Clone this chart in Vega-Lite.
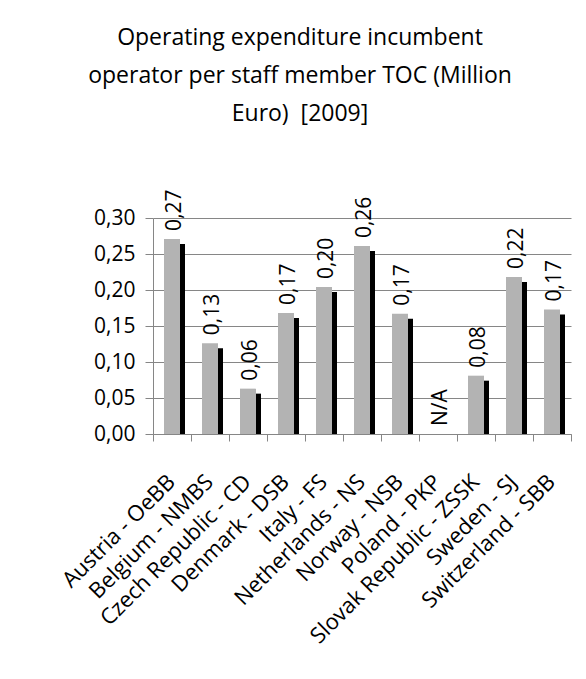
{
  "$schema": "https://vega.github.io/schema/vega-lite/v6.json",
  "width": 418,
  "height": 216,
  "autosize": "none",
  "padding": {"left": 153, "top": 218, "right": 15, "bottom": 245},
  "background": "white",
  "title": {
    "text": ["Operating expenditure incumbent", "operator per staff member TOC (Million", "Euro)\u00a0 [2009]"],
    "anchor": "middle",
    "dx": -62,
    "dy": -53,
    "font": "Open Sans",
    "fontSize": 23,
    "fontWeight": "normal",
    "lineHeight": 38,
    "color": "#000000",
    "offset": 10
  },
  "config": {
    "locale": {"number": {"decimal": ",", "thousands": ".", "grouping": [3], "currency": ["", " €"]}},
    "view": {"stroke": null},
    "font": "Open Sans"
  },
  "data": {
    "values": [
      {"op": "Austria - OeBB", "v": 0.271, "label": "0,27"},
      {"op": "Belgium - NMBS", "v": 0.126, "label": "0,13"},
      {"op": "Czech Republic - CD", "v": 0.063, "label": "0,06"},
      {"op": "Denmark - DSB", "v": 0.168, "label": "0,17"},
      {"op": "Italy - FS", "v": 0.204, "label": "0,20"},
      {"op": "Netherlands - NS", "v": 0.261, "label": "0,26"},
      {"op": "Norway - NSB", "v": 0.167, "label": "0,17"},
      {"op": "Poland - PKP", "v": null, "label": "N/A"},
      {"op": "Slovak Republic - ZSSK", "v": 0.081, "label": "0,08"},
      {"op": "Sweden - SJ", "v": 0.218, "label": "0,22"},
      {"op": "Switzerland - SBB", "v": 0.173, "label": "0,17"}
    ]
  },
  "encoding": {
    "x": {
      "field": "op",
      "type": "nominal",
      "sort": ["Austria - OeBB", "Belgium - NMBS", "Czech Republic - CD", "Denmark - DSB", "Italy - FS", "Netherlands - NS", "Norway - NSB", "Poland - PKP", "Slovak Republic - ZSSK", "Sweden - SJ", "Switzerland - SBB"],
      "scale": {"domain": ["Austria - OeBB", "Belgium - NMBS", "Czech Republic - CD", "Denmark - DSB", "Italy - FS", "Netherlands - NS", "Norway - NSB", "Poland - PKP", "Slovak Republic - ZSSK", "Sweden - SJ", "Switzerland - SBB"], "paddingInner": 0, "paddingOuter": 0},
      "axis": {
        "title": null,
        "labelAngle": -45,
        "labelAlign": "right",
        "labelBaseline": "top",
        "labelFontSize": 22,
        "labelColor": "#000000",
        "labelFont": "Open Sans",
        "domainColor": "#868686",
        "tickColor": "#868686",
        "tickBand": "extent",
        "tickSize": 7,
        "labelPadding": 30,
        "labelOffset": -8,
        "labelOverlap": false,
        "labelLimit": 400
      }
    }
  },
  "layer": [
    {
      "mark": {"type": "bar", "color": "#000000", "size": 16, "xOffset": 5, "yOffset": 5, "y2Offset": 0.01},
      "encoding": {
        "y": {
          "field": "v",
          "type": "quantitative",
          "scale": {"domain": [0, 0.3], "nice": false},
          "axis": {
            "title": null,
            "values": [0, 0.05, 0.1, 0.15, 0.2, 0.25, 0.3],
            "format": ".2f",
            "labelFontSize": 21,
            "labelColor": "#000000",
            "labelFont": "Open Sans",
            "labelOverlap": false,
            "domainColor": "#868686",
            "tickColor": "#868686",
            "gridColor": "#868686",
            "tickSize": 8,
            "labelPadding": 10
          }
        },
        "y2": {"datum": 0}
      }
    },
    {
      "mark": {"type": "bar", "color": "#b3b3b3", "size": 16},
      "encoding": {
        "y": {
          "field": "v",
          "type": "quantitative",
          "axis": {
            "title": null,
            "values": [0, 0.05, 0.1, 0.15, 0.2, 0.25, 0.3],
            "format": ".2f",
            "labelFontSize": 21,
            "labelColor": "#000000",
            "labelFont": "Open Sans",
            "labelOverlap": false,
            "domainColor": "#868686",
            "tickColor": "#868686",
            "gridColor": "#868686",
            "tickSize": 8,
            "labelPadding": 10
          }
        }
      }
    },
    {
      "transform": [{"calculate": "isValid(datum.v) ? datum.v : 0", "as": "pos"}],
      "mark": {"type": "text", "angle": 270, "align": "left", "baseline": "middle", "dx": 8, "dy": 3, "fontSize": 21, "font": "Open Sans", "color": "#000000"},
      "encoding": {
        "y": {
          "field": "pos",
          "type": "quantitative",
          "axis": {
            "title": null,
            "values": [0, 0.05, 0.1, 0.15, 0.2, 0.25, 0.3],
            "format": ".2f",
            "labelFontSize": 21,
            "labelColor": "#000000",
            "labelFont": "Open Sans",
            "labelOverlap": false,
            "domainColor": "#868686",
            "tickColor": "#868686",
            "gridColor": "#868686",
            "tickSize": 8,
            "labelPadding": 10
          }
        },
        "text": {"field": "label"}
      }
    }
  ]
}
